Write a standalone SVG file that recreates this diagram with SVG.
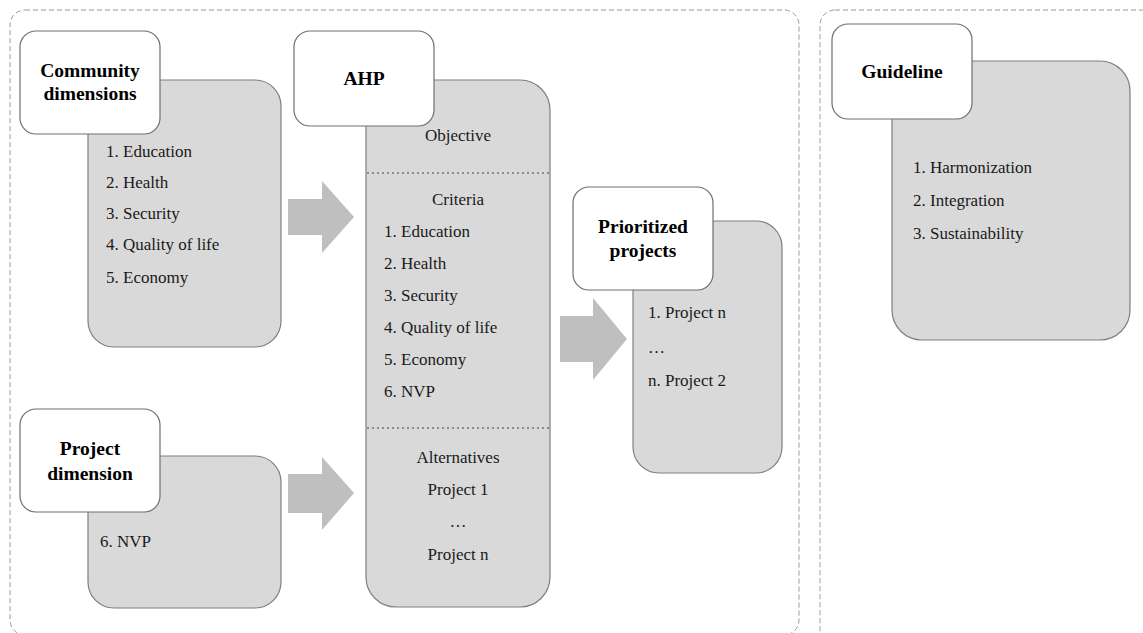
<svg xmlns="http://www.w3.org/2000/svg" width="1143" height="633" viewBox="0 0 1143 633" font-family="'Liberation Serif', 'DejaVu Serif', serif">
  <style>
    .frame { fill: none; stroke: #9a9a9a; stroke-width: 1; stroke-dasharray: 5 3; }
    .panel { fill: #d9d9d9; stroke: #7f7f7f; stroke-width: 1.2; }
    .head { fill: #ffffff; stroke: #6e6e6e; stroke-width: 1.2; }
    .sep { stroke: #8c8c8c; stroke-width: 2; stroke-dasharray: 2 3; }
    text { font-family: 'Liberation Serif', 'DejaVu Serif', serif; }
    .title { font-size: 19.5px; font-weight: bold; fill: #000; text-anchor: middle; }
    .item { font-size: 17px; fill: #1a1a1a; }
    .mid { text-anchor: middle; }
    .flow { fill: #bfbfbf; }
  </style>

  <!-- dashed grouping frames -->
  <g id="frames">
    <rect class="frame" x="10" y="10" width="789" height="625" rx="15"/>
    <rect class="frame" x="820" y="10" width="340" height="640" rx="15"/>
  </g>

  <!-- block arrows -->
  <g id="connectors">
    <polygon class="flow" points="288,199 322,199 322,181 354,217 322,253 322,235 288,235"/>
    <polygon class="flow" points="288,474 322,474 322,457 354,493 322,530 322,513 288,513"/>
    <polygon class="flow" points="560,316 593,316 593,298 627,339 593,380 593,362 560,362"/>
  </g>

  <g id="community-dimensions">
    <rect class="panel" x="88" y="80" width="193" height="267" rx="26"/>
    <rect class="head" x="20" y="31" width="140" height="103" rx="16"/>
    <text class="title" x="90" y="77">Community</text>
    <text class="title" x="90" y="100">dimensions</text>
    <text class="item" x="106" y="157">1. Education</text>
    <text class="item" x="106" y="188">2. Health</text>
    <text class="item" x="106" y="219">3. Security</text>
    <text class="item" x="106" y="250">4. Quality of life</text>
    <text class="item" x="106" y="283">5. Economy</text>
  </g>

  <g id="project-dimension">
    <rect class="panel" x="88" y="456" width="193" height="152" rx="26"/>
    <rect class="head" x="20" y="409" width="140" height="103" rx="16"/>
    <text class="title" x="90" y="455">Project</text>
    <text class="title" x="90" y="480">dimension</text>
    <text class="item" x="100" y="547">6. NVP</text>
  </g>

  <g id="ahp">
    <rect class="panel" x="366" y="80" width="184" height="527" rx="30"/>
    <rect class="head" x="294" y="31" width="140" height="95" rx="16"/>
    <text class="title" x="364" y="85">AHP</text>
    <text class="item mid" x="458" y="141">Objective</text>
    <line class="sep" x1="367" y1="173" x2="549" y2="173"/>
    <text class="item mid" x="458" y="205">Criteria</text>
    <text class="item" x="384" y="237">1. Education</text>
    <text class="item" x="384" y="269">2. Health</text>
    <text class="item" x="384" y="301">3. Security</text>
    <text class="item" x="384" y="333">4. Quality of life</text>
    <text class="item" x="384" y="365">5. Economy</text>
    <text class="item" x="384" y="397">6. NVP</text>
    <line class="sep" x1="367" y1="428" x2="549" y2="428"/>
    <text class="item mid" x="458" y="463">Alternatives</text>
    <text class="item mid" x="458" y="495">Project 1</text>
    <text class="item mid" x="458" y="527">…</text>
    <text class="item mid" x="458" y="560">Project n</text>
  </g>

  <g id="prioritized-projects">
    <rect class="panel" x="633" y="221" width="149" height="252" rx="26"/>
    <rect class="head" x="573" y="187" width="140" height="103" rx="16"/>
    <text class="title" x="643" y="233">Prioritized</text>
    <text class="title" x="643" y="257">projects</text>
    <text class="item" x="648" y="318">1. Project n</text>
    <text class="item" x="648" y="353">…</text>
    <text class="item" x="648" y="386">n. Project 2</text>
  </g>

  <g id="guideline">
    <rect class="panel" x="892" y="61" width="238" height="279" rx="30"/>
    <rect class="head" x="832" y="24" width="140" height="95" rx="16"/>
    <text class="title" x="902" y="78">Guideline</text>
    <text class="item" x="913" y="173">1. Harmonization</text>
    <text class="item" x="913" y="206">2. Integration</text>
    <text class="item" x="913" y="239">3. Sustainability</text>
  </g>
</svg>
